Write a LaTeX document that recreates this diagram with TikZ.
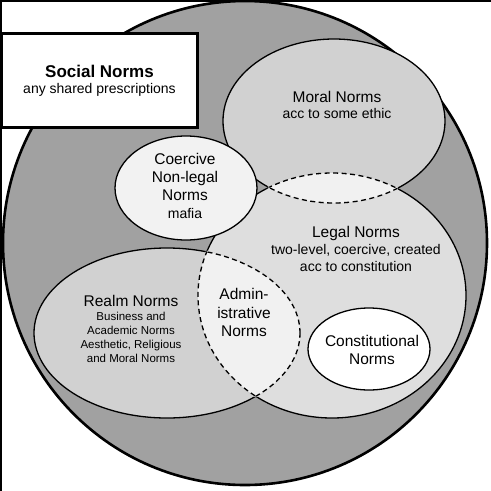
\documentclass[tikz,border=0pt]{standalone}
\usepackage{fontspec}
\setmainfont{Liberation Sans}
\usepackage{tikz}
\usetikzlibrary{positioning}
\definecolor{outergray}{gray}{0.63}
\definecolor{moralgray}{gray}{0.82}
\definecolor{legalgray}{gray}{0.87}
\definecolor{realmgray}{gray}{0.82}
\definecolor{lensgray}{gray}{0.945}
\definecolor{coercegray}{gray}{0.95}
\tikzstyle{outline} = [
    draw=black,
    line width=1.3pt
]
\tikzstyle{lensline} = [
    draw=black,
    line width=1.3pt,
    dash pattern=on 5pt off 3.5pt
]
\tikzstyle{erase} = [
    line width=2.4pt
]
\tikzstyle{label} = [
    align=center,
    inner sep=0pt,
    font=\fontsize{14}{16}\selectfont
]
\newcommand{\bigtitle}[1]{{\fontsize{15.5}{16}\selectfont #1}}

\def\moral{(334,121) ellipse (111pt and 82pt)}
\def\legal{(332,295.5) ellipse (134pt and 122.5pt)}
\def\realm{(167,333) ellipse (133pt and 85pt)}
\def\coercive{(186,188) ellipse (71pt and 52pt)}
\def\constit{(369,349) ellipse (61pt and 41pt)}

\begin{document}
\begin{tikzpicture}[x=1pt, y=-1pt]
        \useasboundingbox (0,0) rectangle (491,491);

        % Frame
        \draw[line width=4pt] (0,491) -- (0,0) -- (491,0);

        % Social norms circle
        \fill[outergray] (245,243) circle (242pt);
        \draw[line width=2.6pt] (245,243) circle (242pt);

        % Fills and solid borders
        \fill[moralgray] \moral;
        \fill[realmgray] \realm;
        \fill[legalgray] \legal;
        \draw[outline] \moral;
        \draw[outline] \realm;
        \draw[outline] \legal;

        % Remove borders inside the overlaps
        \begin{scope}
            \clip \moral;
            \draw[erase, moralgray] \legal;
        \end{scope}
        \begin{scope}
            \clip \realm;
            \draw[erase, realmgray] \legal;
        \end{scope}
        \begin{scope}
            \clip \legal;
            \draw[erase, legalgray] \moral;
            \draw[erase, legalgray] \realm;
        \end{scope}

        % Overlaps
        \begin{scope}
            \clip \moral;
            \fill[lensgray] \legal;
            \draw[lensline] \legal;
        \end{scope}
        \begin{scope}
            \clip \realm;
            \fill[lensgray] \legal;
            \draw[lensline] \legal;
        \end{scope}
        \begin{scope}
            \clip \legal;
            \draw[lensline] \moral;
            \draw[lensline] \realm;
        \end{scope}

        % Coercive and constitutional
        \draw[outline, fill=coercegray] \coercive;
        \draw[outline, fill=white] \constit;

        % Social norms box
        \node[draw, line width=3pt, fill=white, minimum width=196pt,
              minimum height=94pt, align=center,
              font=\fontsize{14}{16}\selectfont] (social) at (99.5,80.5)
              {{\fontsize{17}{16}\selectfont\bfseries Social Norms}\\
               any shared prescriptions};

        % Labels
        \node[label] (moraltext) at (337,105.4)
              {\bigtitle{Moral Norms}\\ acc to some ethic};
        \node[label, font=\fontsize{14}{17}\selectfont] (legaltext) at (356,249.4)
              {\bigtitle{Legal Norms}\\ two-level, coercive, created\\
               acc to constitution};
        \node[label, font=\fontsize{11.5}{14}\selectfont] (realmtext) at (131,329.4)
              {\bigtitle{Realm Norms}\\ Business and\\ Academic Norms\\
               Aesthetic, Religious\\ and Moral Norms};
        \node[label, font=\fontsize{15.5}{18.5}\selectfont] (admintext) at (244,312.9)
              {Admin-\\ istrative\\ Norms};
        \node[label, font=\fontsize{15.5}{17.7}\selectfont] (coercetext) at (185,185.9)
              {Coercive\\ Non-legal\\ Norms\\ {\fontsize{14}{17.7}\selectfont mafia}};
        \node[label, font=\fontsize{15.5}{18}\selectfont] (constittext) at (372,350.4)
              {Constitutional\\ Norms};
    \end{tikzpicture}
\end{document}
